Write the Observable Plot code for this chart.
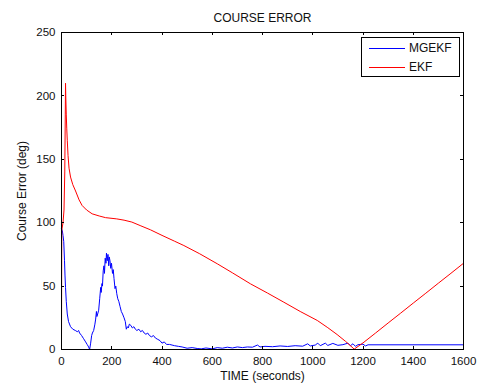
<!DOCTYPE html>
<html>
<head>
<meta charset="utf-8">
<script src="https://cdn.jsdelivr.net/npm/d3@7"></script>
<script src="https://cdn.jsdelivr.net/npm/@observablehq/plot@0.6"></script>
<style>
  html, body { margin: 0; padding: 0; background: #fff; }
  #wrap { position: relative; width: 478px; height: 383px; font-family: "Liberation Sans", Arial, sans-serif; }
  #legend { position: absolute; left: 361px; top: 37px; width: 97px; height: 38px; border: 1px solid #000; background: #fff; font-size: 12px; color: #111; }
  .row { position: absolute; left: 0; height: 14px; }
  .sw { position: absolute; left: 7px; width: 36px; height: 0; border-top: 1px solid; }
  .lb { position: absolute; left: 47px; top: -7px; white-space: nowrap; line-height: 14px; }
</style>
</head>
<body>
<div id="wrap"></div>
<script>
const title = "COURSE ERROR";
const xLabel = "TIME (seconds)";
const yLabel = "Course Error (deg)";
const xTicks = [0, 200, 400, 600, 800, 1000, 1200, 1400, 1600];
const yTicks = [0, 50, 100, 150, 200, 250];
const seriesNames = ["MGEKF", "EKF"];
const seriesColors = ["#0000ff", "#ff0000"];

const ekfTime = [0, 1, 6, 10, 13, 15, 16, 17, 19, 21, 23, 26, 30, 36, 45, 56, 70, 82, 100, 122, 150, 175, 220, 249, 280, 316, 354, 400, 449, 487, 550, 620, 680, 752, 820, 885, 950, 1018, 1060, 1097, 1130, 1165, 1200, 1250, 1300, 1350, 1400, 1450, 1500, 1550, 1600];
const ekfValue = [0, 94, 100, 110, 140, 185, 210, 200, 185, 174, 165, 153, 143, 136, 130, 125, 118, 113.6, 110, 107, 105.3, 104, 103, 102, 100.5, 97.5, 94.4, 90, 85.5, 82, 75.5, 67.6, 60.5, 51.8, 44.5, 37.3, 30, 22.9, 17.2, 11.8, 6.5, 0.3, 5.2, 13, 20.9, 28.7, 36.6, 44.4, 52.3, 60.1, 68];

const mgTime = [0, 3, 6, 9, 12, 14, 16, 19, 23, 28, 36, 45, 55, 63, 68, 72, 80, 88, 96, 102, 108, 112, 116, 120, 123, 128, 133, 136, 139, 141, 144, 148, 152, 156, 158, 161, 163, 166, 169, 171, 174, 177, 179, 182, 185, 188, 190, 193, 196, 199, 203, 206, 209, 213, 216, 220, 224, 228, 233, 238, 243, 249, 254, 258, 262, 266, 270, 276, 282, 288, 294, 300, 308, 315, 322, 329, 336, 343, 350, 358, 366, 374, 383, 392, 400, 409, 418, 430, 440, 450, 465, 480, 500, 520, 540, 556, 575, 600, 620, 640, 660, 680, 700, 720, 740, 760, 780, 790, 810, 840, 870, 900, 930, 960, 980, 990, 1010, 1020, 1030, 1050, 1060, 1080, 1100, 1120, 1140, 1150, 1160, 1170, 1180, 1200, 1210, 1220, 1600];
const mgValue = [95, 94, 90, 85, 70, 58, 49, 38, 28, 22, 18, 16, 15, 14, 15, 13, 11, 8.5, 6, 4, 2, 0, 5, 11, 13, 15, 20, 24, 30, 26, 28, 31, 40, 49, 45, 52, 50, 62, 66, 60, 72, 68, 76, 70, 75, 66, 73, 70, 64, 68, 60, 63, 56, 48, 50, 44, 40, 38, 34, 30, 28, 25, 22, 16, 18, 17, 20, 19, 17, 18, 16, 15, 16, 14, 15, 13, 12, 13, 11, 10, 11, 9, 8, 7, 5, 6, 4, 4, 3.5, 3, 2.5, 2, 1, 1.5, 0.8, 0.5, 1.2, 0.5, 1.5, 1, 1.8, 1.2, 2, 1.5, 2, 1.8, 3.5, 2, 2.5, 2.2, 2.8, 2.4, 3, 2.6, 4.5, 2.8, 3.5, 5, 3, 5, 3.2, 4.8, 3.3, 3.8, 5, 3, 4.5, 2.5, 3.8, 4.2, 2.8, 3.7, 3.7];

const ekf = ekfTime.map((t, i) => ({t, v: ekfValue[i]}));
const mg = mgTime.map((t, i) => ({t, v: mgValue[i]}));

const chart = Plot.plot({
  width: 478,
  height: 383,
  marginLeft: 61,
  marginRight: 15,
  marginTop: 32,
  marginBottom: 34,
  style: {fontFamily: "'Liberation Sans', Arial, sans-serif", fontSize: "11.5px", color: "#111", background: "#fff", overflow: "visible"},
  x: {domain: [0, 1600]},
  y: {domain: [0, 250]},
  marks: [
    Plot.line(mg, {x: "t", y: "v", stroke: seriesColors[0], strokeWidth: 1}),
    Plot.line(ekf, {x: "t", y: "v", stroke: seriesColors[1], strokeWidth: 1}),
    Plot.axisX({ticks: xTicks, tickSize: 0, tickPadding: 7, label: null, tickFormat: d => String(d), fontSize: 11.5}),
    Plot.axisY({ticks: yTicks, tickSize: 0, tickPadding: 6, label: null, tickFormat: d => String(d), fontSize: 11.5}),
    Plot.frame({stroke: "#000", strokeWidth: 1}),
    Plot.text([title], {frameAnchor: "top", lineAnchor: "middle", dy: -14, fontSize: 12, fill: "#111"}),
    Plot.text([xLabel], {frameAnchor: "bottom", lineAnchor: "middle", dy: 27, fontSize: 12, fill: "#111"}),
    Plot.text([yLabel], {frameAnchor: "left", textAnchor: "middle", lineAnchor: "middle", dx: -39, rotate: -90, fontSize: 12, fill: "#111"})
  ]
});

// inward tick marks on all four sides, drawn through the scales
const sx = chart.scale("x"), sy = chart.scale("y");
const svg = d3.select(chart);
const g = svg.append("g").attr("stroke", "#000").attr("stroke-width", 1);
const yTop = sy.apply(250), yBottom = sy.apply(0), xLeft = sx.apply(0), xRight = sx.apply(1600);
xTicks.forEach(t => {
  const x = Math.round(sx.apply(t)) + 0.5;
  g.append("line").attr("x1", x).attr("x2", x).attr("y1", yBottom).attr("y2", yBottom - 3);
  g.append("line").attr("x1", x).attr("x2", x).attr("y1", yTop).attr("y2", yTop + 3);
});
yTicks.forEach(v => {
  const y = Math.round(sy.apply(v)) + 0.5;
  g.append("line").attr("x1", xLeft).attr("x2", xLeft + 3).attr("y1", y).attr("y2", y);
  g.append("line").attr("x1", xRight).attr("x2", xRight - 3).attr("y1", y).attr("y2", y);
});

const wrap = document.getElementById("wrap");
wrap.appendChild(chart);
const legend = document.createElement("div");
legend.id = "legend";
seriesNames.forEach((name, i) => {
  const row = document.createElement("div");
  row.className = "row";
  row.style.top = (10 + i * 18.5) + "px";
  const sw = document.createElement("div");
  sw.className = "sw";
  sw.style.borderColor = seriesColors[i];
  const lb = document.createElement("div");
  lb.className = "lb";
  lb.textContent = name;
  row.appendChild(sw);
  row.appendChild(lb);
  legend.appendChild(row);
});
wrap.appendChild(legend);
</script>
</body>
</html>
